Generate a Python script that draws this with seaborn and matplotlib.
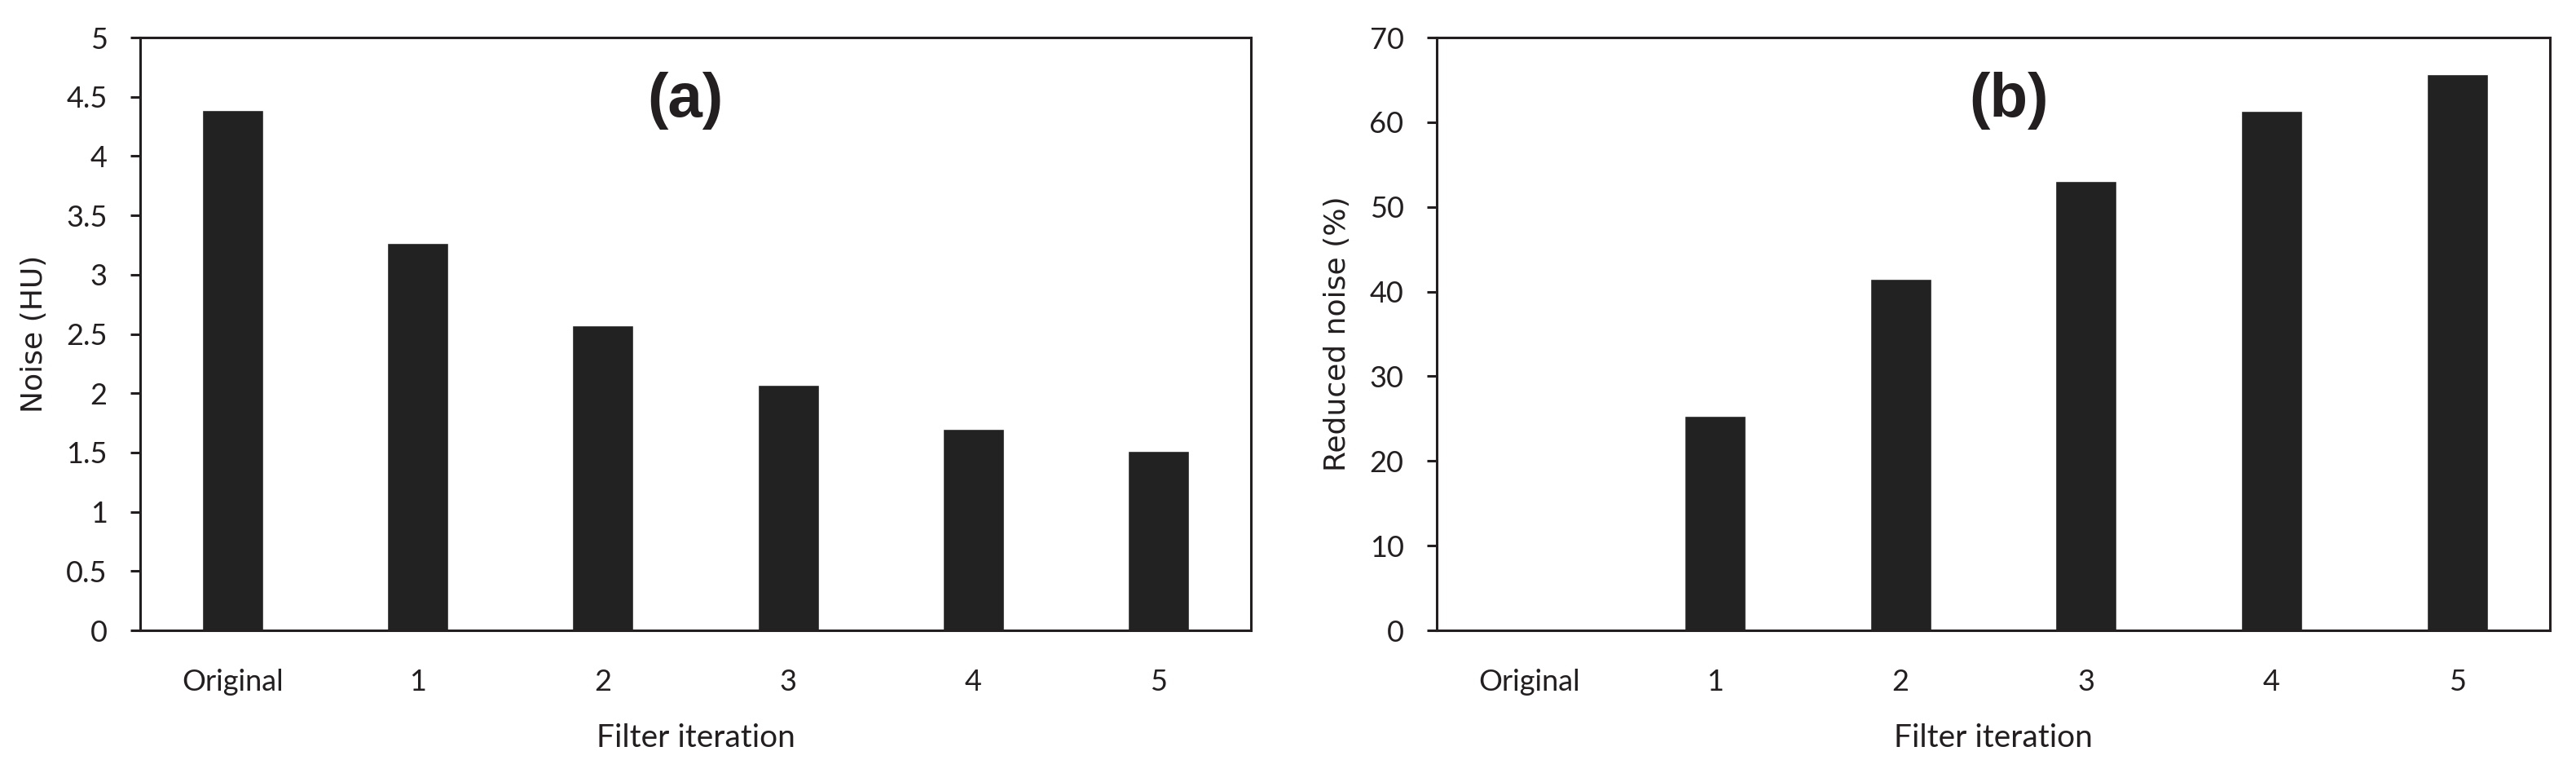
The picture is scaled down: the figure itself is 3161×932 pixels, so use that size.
import matplotlib
matplotlib.use("Agg")
import matplotlib.pyplot as plt
import seaborn as sns
import pandas as pd

categories = ["Original", "1", "2", "3", "4", "5"]
noise_hu = [4.39, 3.27, 2.57, 2.07, 1.70, 1.51]
reduced_noise_pct = [0.0, 25.3, 41.5, 53.1, 61.3, 65.7]
yticks_a = [0, 0.5, 1, 1.5, 2, 2.5, 3, 3.5, 4, 4.5, 5]
yticks_b = [0, 10, 20, 30, 40, 50, 60, 70]

sns.set_theme(style="white")
plt.rcParams['font.family'] = ['Lato', 'DejaVu Sans']

fig = plt.figure(figsize=(31.61, 9.32), dpi=100)
ax_a = fig.add_axes([0.0544, 0.1706, 0.4312, 0.7800])
ax_b = fig.add_axes([0.5577, 0.1706, 0.4322, 0.7800])

bar_color = "#222222"
ink = "#231f20"

def style(ax, vals, yticks, ylabel, tag, tagx):
    df = pd.DataFrame({"cat": categories, "val": vals})
    sns.barplot(data=df, x="cat", y="val", order=categories, color=bar_color,
                saturation=1, width=0.33, ax=ax, errorbar=None)
    ax.set_xlim(-0.5, 5.5)
    ax.set_ylim(yticks[0], yticks[-1])
    ax.set_yticks(yticks)
    ax.set_yticklabels([("%g" % t) for t in yticks])
    for s in ax.spines.values():
        s.set_visible(True)
        s.set_color(ink)
        s.set_linewidth(2.2)
    ax.tick_params(axis="y", which="both", left=True, direction="out", length=9,
                   width=2.2, color=ink, pad=20, labelsize=26, labelcolor=ink)
    ax.tick_params(axis="x", bottom=False, pad=28, labelsize=26, labelcolor=ink)
    ax.set_xlabel("Filter iteration", fontsize=28, color=ink, labelpad=24)
    ax.set_ylabel(ylabel, fontsize=26, color=ink, labelpad=16, family=['DejaVu Sans'])
    ax.text(tagx, 0.894, tag, transform=ax.transAxes, ha="center", va="center",
            fontsize=55, fontweight="bold", color=ink, family=['Liberation Sans', 'DejaVu Sans'])
    ax.grid(False)

style(ax_a, noise_hu, yticks_a, "Noise (HU)", "(a)", 0.491)
style(ax_b, reduced_noise_pct, yticks_b, "Reduced noise (%)", "(b)", 0.514)

fig.savefig("out.png", dpi=100, facecolor="white")
